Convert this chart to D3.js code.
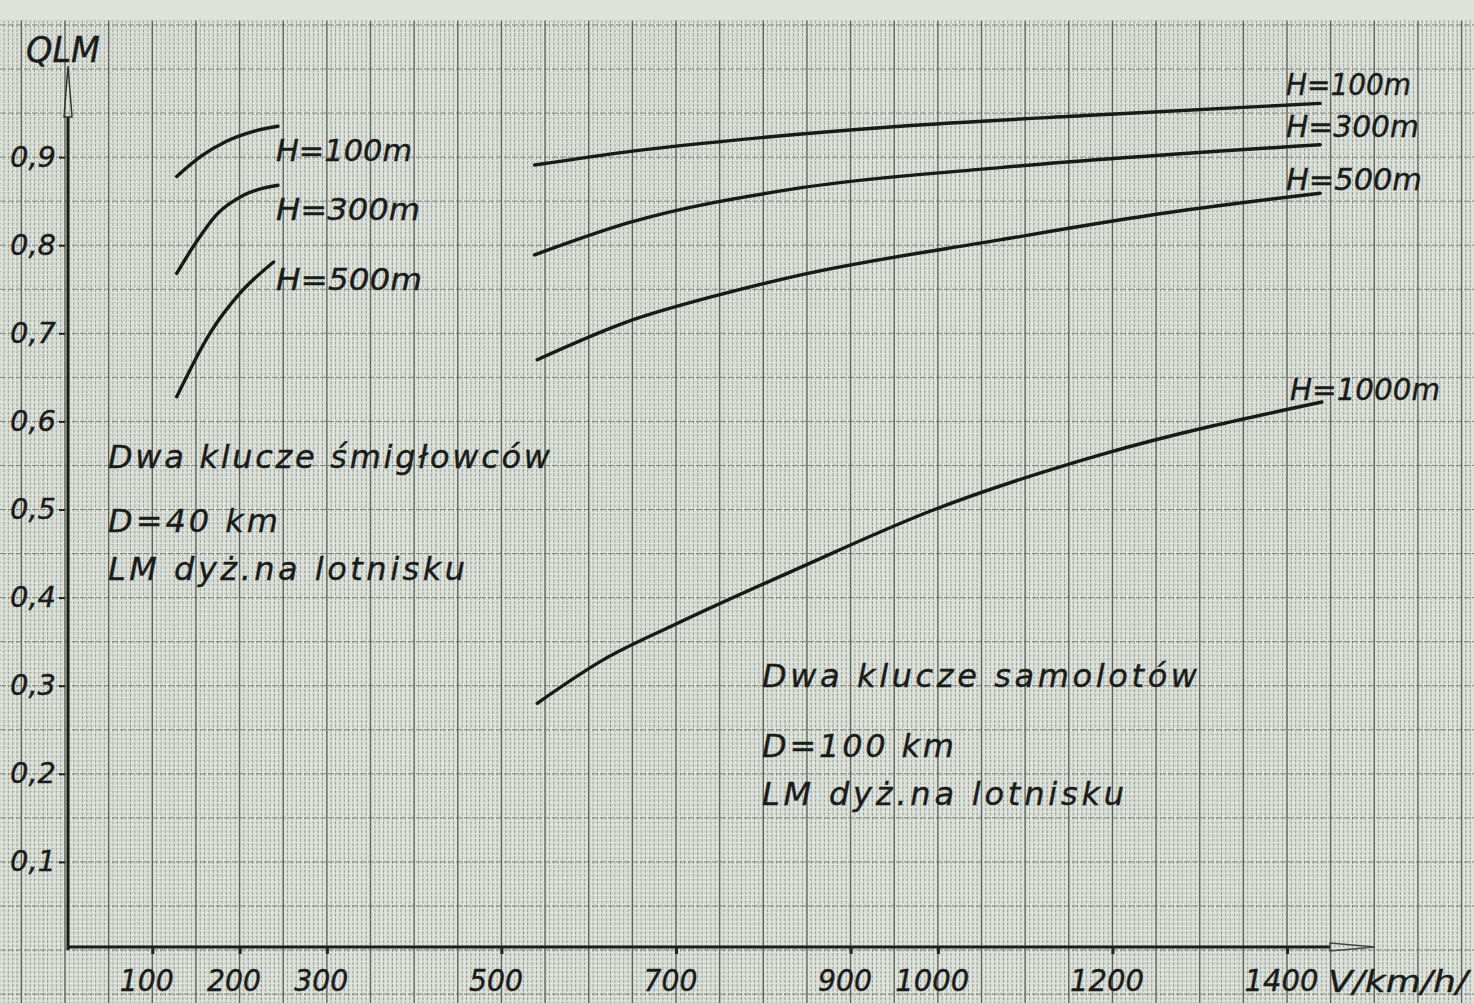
<!DOCTYPE html>
<html><head><meta charset="utf-8">
<script src="https://cdn.jsdelivr.net/npm/d3@7"></script>
<style>
html,body{margin:0;padding:0;background:#dde2db;overflow:hidden;}
svg{display:block;}
text{font-family:"DejaVu Sans",sans-serif;font-style:italic;fill:#1a1c1a;stroke:#1a1c1a;stroke-width:0.4px;}
</style></head><body>
<svg id="chart" width="1474" height="1003"></svg>
<script>
// ---- data ----
const xTickValues = [100, 200, 300, 500, 700, 900, 1000, 1200, 1400];
const xTickLabels = ["100", "200", "300", "500", "700", "900", "1000", "1200", "1400"];
const yTickValues = [0.1, 0.2, 0.3, 0.4, 0.5, 0.6, 0.7, 0.8, 0.9];
const yTickLabels = ["0,1", "0,2", "0,3", "0,4", "0,5", "0,6", "0,7", "0,8", "0,9"];

// helicopters (two flights), D = 40 km  [V km/h, Q]
const heliH100 = [[128, 0.878], [156, 0.901], [185, 0.918], [215, 0.929], [244, 0.935]];
const heliH300 = [[128, 0.768], [150, 0.803], [174, 0.835], [205, 0.857], [244, 0.868]];
const heliH500 = [[128, 0.628], [166, 0.700], [200, 0.745], [239, 0.781]];
// aircraft (two flights), D = 100 km
const planeH100 = [[538, 0.891], [644, 0.906], [765, 0.919], [957, 0.935], [1186, 0.948], [1438, 0.961]];
const planeH300 = [[538, 0.789], [644, 0.825], [842, 0.865], [1071, 0.888], [1438, 0.914]];
const planeH500 = [[541, 0.670], [644, 0.713], [747, 0.743], [842, 0.766], [1071, 0.806], [1243, 0.834], [1438, 0.859]];
const planeH1000 = [[541, 0.280], [616, 0.329], [700, 0.370], [842, 0.434], [991, 0.498], [1186, 0.562], [1440, 0.622]];

const seriesNames = ["H=100m", "H=300m", "H=500m", "H=1000m"];

// ---- chart ----
const svg = d3.select("#chart");
const x = d3.scaleLinear().domain([0, 1400]).range([65, 1287]);
const y = d3.scaleLinear().domain([0, 1]).range([950, 69]);

// graph paper
const paper = svg.append("g");
const vMinor = d3.range(-75, 1625, 5);
const hMinor = d3.range(-0.06, 1.056, 0.005);
paper.selectAll("line.vm").data(vMinor).join("line")
  .attr("x1", d => x(d)).attr("x2", d => x(d))
  .attr("y1", y(1.055)).attr("y2", 1003)
  .attr("stroke", d => (Math.round(d) % 50 === 0) ? "#3a3f3a" : (Math.round(d) % 25 === 0 ? "#4f544f" : "#6a6f6a"))
  .attr("stroke-width", d => (Math.round(d) % 50 === 0) ? 1.4 : 1)
  .attr("stroke-dasharray", d => (Math.round(d) % 50 === 0) ? null : "3,1.4")
  .attr("opacity", d => (Math.round(d) % 50 === 0) ? 0.8 : 0.6);
paper.selectAll("line.hm").data(hMinor).join("line")
  .attr("x1", 0).attr("x2", 1474)
  .attr("y1", d => y(d)).attr("y2", d => y(d))
  .attr("stroke", d => (Math.round(d * 1000) % 50 === 0) ? "#5f645f" : "#9ca19c")
  .attr("stroke-width", 1)
  .attr("stroke-dasharray", d => (Math.round(d * 1000) % 50 === 0) ? "6,2" : "1.5,2.9")
  .attr("opacity", d => (Math.round(d * 1000) % 50 === 0) ? 0.75 : 0.5);

// axes lines
const axisG = svg.append("g");
axisG.append("line").attr("x1", x(0) + 3).attr("x2", x(0) + 3).attr("y1", y(0)).attr("y2", 117)
  .attr("stroke", "#1a1c1a").attr("stroke-width", 3);
axisG.append("path").attr("d", `M${x(0)+3},66 L${x(0)-1},117 L${x(0)+7},117 Z`)
  .attr("fill", "none").attr("stroke", "#333").attr("stroke-width", 1.5);
axisG.append("line").attr("x1", x(0) + 2).attr("x2", 1330).attr("y1", y(0) - 3).attr("y2", y(0) - 3)
  .attr("stroke", "#1a1c1a").attr("stroke-width", 3.2);
axisG.append("path").attr("d", `M1330,${y(0)-7} L1375,${y(0)-3} L1330,${y(0)+1} Z`)
  .attr("fill", "none").attr("stroke", "#444").attr("stroke-width", 1.5);

// y ticks
const yAxis = d3.axisLeft(y).tickValues(yTickValues).tickSize(6).tickPadding(3)
  .tickFormat((d, i) => yTickLabels[i]);
const gy = svg.append("g").attr("transform", `translate(${x(0)},0)`).call(yAxis);
gy.select(".domain").remove();
gy.selectAll(".tick line").attr("stroke", "#222").attr("stroke-width", 2);
gy.selectAll(".tick text").attr("font-size", 28).attr("font-style", "italic")
  .attr("font-family", "'DejaVu Sans',sans-serif").attr("fill", "#1a1c1a")
  .attr("textLength", 46).attr("lengthAdjust", "spacingAndGlyphs");

// x ticks
const xAxis = d3.axisBottom(x).tickValues(xTickValues).tickSize(7).tickPadding(16)
  .tickFormat((d, i) => xTickLabels[i]);
const gx = svg.append("g").attr("transform", `translate(0,${y(0) - 3})`).call(xAxis);
gx.select(".domain").remove();
gx.selectAll(".tick line").attr("stroke", "#222").attr("stroke-width", 3);
gx.selectAll(".tick text").attr("font-size", 30).attr("font-style", "italic")
  .attr("font-family", "'DejaVu Sans',sans-serif").attr("fill", "#1a1c1a")
  .attr("dx", -6)
  .attr("textLength", (d, i) => xTickLabels[i].length === 4 ? 74 : 54)
  .attr("lengthAdjust", "spacingAndGlyphs");

// axis titles
svg.append("text").attr("x", 26).attr("y", 62).attr("font-size", 36)
  .attr("textLength", 74).attr("lengthAdjust", "spacingAndGlyphs").text("QLM");
svg.append("text").attr("x", 1328).attr("y", 992).attr("font-size", 30)
  .attr("textLength", 140).attr("lengthAdjust", "spacingAndGlyphs").text("V/km/h/");

// curves
const line = d3.line().x(d => x(d[0])).y(d => y(d[1])).curve(d3.curveMonotoneX);
const allCurves = [heliH100, heliH300, heliH500, planeH100, planeH300, planeH500, planeH1000];
svg.append("g").selectAll("path").data(allCurves).join("path")
  .attr("d", line).attr("fill", "none").attr("stroke", "#181a18")
  .attr("stroke-width", 3.4).attr("stroke-linecap", "round");

// curve labels
const lab = svg.append("g");
const leftLabels = [[0, 276, 161, 136], [1, 276, 220, 144], [2, 276, 290, 146]];
leftLabels.forEach(([i, px, py, w]) => {
  lab.append("text").attr("x", px).attr("y", py).attr("font-size", 31)
    .attr("textLength", w).attr("lengthAdjust", "spacingAndGlyphs").text(seriesNames[i]);
});
const rightLabels = [[0, 1286, 95, 125], [1, 1286, 137, 133], [2, 1286, 190, 136], [3, 1290, 400, 150]];
rightLabels.forEach(([i, px, py, w]) => {
  lab.append("text").attr("x", px).attr("y", py).attr("font-size", 30)
    .attr("textLength", w).attr("lengthAdjust", "spacingAndGlyphs").text(seriesNames[i]);
});

// notes
const notes = [
  ["Dwa klucze śmigłowców", 108, 468, 442],
  ["D=40 km", 108, 532, 170],
  ["LM dyż.na lotnisku", 108, 580, 357],
  ["Dwa klucze samolotów", 762, 687, 435],
  ["D=100 km", 762, 757, 192],
  ["LM dyż.na lotnisku", 762, 805, 362]
];
svg.append("g").selectAll("text").data(notes).join("text")
  .attr("x", d => d[1]).attr("y", d => d[2]).attr("font-size", 32)
  .attr("textLength", d => d[3]).attr("lengthAdjust", "spacing")
  .text(d => d[0]);
</script>
</body></html>
